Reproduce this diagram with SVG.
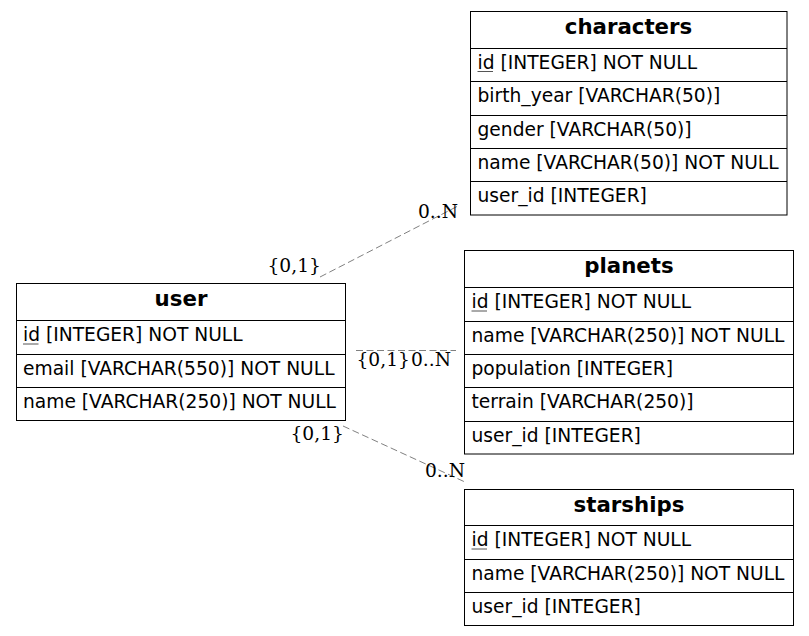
<svg xmlns="http://www.w3.org/2000/svg" width="809" height="636" viewBox="0 0 809 636">
<style>
.bg{fill:#fff}
.box{fill:#fff;stroke:#000;stroke-width:1}
.sep{stroke:#000;stroke-width:1}
.hd{font-family:"DejaVu Sans",sans-serif;font-size:21.3px;font-weight:bold;text-anchor:middle;fill:#000}
.f{font-family:"DejaVu Sans",sans-serif;font-size:18.67px;fill:#000}
.ul{stroke:#555;stroke-width:1}
.lbl{font-family:"DejaVu Serif",serif;font-size:18.67px;fill:#000}
.edge{fill:none;stroke:#808080;stroke-width:1;stroke-dasharray:7,3.5}
</style>
<rect class="bg" x="0" y="0" width="809" height="636"/>
<g id="connectors">
<path class="edge" d="M320,277 L458,206"/>
<path class="edge" d="M356,350.5 L456,350.5"/>
<path class="edge" d="M343,426 L465,482"/>
<text class="lbl" x="267.5" y="272">{0,1}</text>
<text class="lbl" x="418" y="218">0..N</text>
<text class="lbl" x="356.5" y="366">{0,1}</text>
<text class="lbl" x="411" y="366">0..N</text>
<text class="lbl" x="290.5" y="440">{0,1}</text>
<text class="lbl" x="425" y="477">0..N</text>
</g>
<g id="characters">
<rect class="box" x="470.5" y="11.5" width="316.5" height="203.5"/>
<line class="sep" x1="470.5" y1="48.5" x2="787" y2="48.5"/>
<line class="sep" x1="470.5" y1="81.5" x2="787" y2="81.5"/>
<line class="sep" x1="470.5" y1="115.5" x2="787" y2="115.5"/>
<line class="sep" x1="470.5" y1="148.5" x2="787" y2="148.5"/>
<line class="sep" x1="470.5" y1="181.5" x2="787" y2="181.5"/>
<text class="hd" x="628.5" y="34">characters</text>
<text class="f" x="477.5" y="69">id [INTEGER] NOT NULL</text>
<line class="ul" x1="477.5" y1="71.5" x2="493" y2="71.5"/>
<text class="f" x="477.5" y="102.4">birth_year [VARCHAR(50)]</text>
<text class="f" x="477.5" y="135.7">gender [VARCHAR(50)]</text>
<text class="f" x="477.5" y="169">name [VARCHAR(50)] NOT NULL</text>
<text class="f" x="477.5" y="202.4">user_id [INTEGER]</text>
</g>
<g id="planets">
<rect class="box" x="464.5" y="250.5" width="329" height="203.5"/>
<line class="sep" x1="464.5" y1="287.5" x2="793.5" y2="287.5"/>
<line class="sep" x1="464.5" y1="321.5" x2="793.5" y2="321.5"/>
<line class="sep" x1="464.5" y1="354.5" x2="793.5" y2="354.5"/>
<line class="sep" x1="464.5" y1="387.5" x2="793.5" y2="387.5"/>
<line class="sep" x1="464.5" y1="421.5" x2="793.5" y2="421.5"/>
<text class="hd" x="629" y="273">planets</text>
<text class="f" x="471.5" y="308.4">id [INTEGER] NOT NULL</text>
<line class="ul" x1="471.5" y1="311" x2="487" y2="311"/>
<text class="f" x="471.5" y="341.7">name [VARCHAR(250)] NOT NULL</text>
<text class="f" x="471.5" y="375">population [INTEGER]</text>
<text class="f" x="471.5" y="408.4">terrain [VARCHAR(250)]</text>
<text class="f" x="471.5" y="441.7">user_id [INTEGER]</text>
</g>
<g id="starships">
<rect class="box" x="464.5" y="489.5" width="329" height="136"/>
<line class="sep" x1="464.5" y1="525.5" x2="793.5" y2="525.5"/>
<line class="sep" x1="464.5" y1="559.5" x2="793.5" y2="559.5"/>
<line class="sep" x1="464.5" y1="592.5" x2="793.5" y2="592.5"/>
<text class="hd" x="629" y="512">starships</text>
<text class="f" x="471.5" y="546.4">id [INTEGER] NOT NULL</text>
<line class="ul" x1="471.5" y1="549" x2="487" y2="549"/>
<text class="f" x="471.5" y="579.7">name [VARCHAR(250)] NOT NULL</text>
<text class="f" x="471.5" y="613">user_id [INTEGER]</text>
</g>
<g id="user">
<rect class="box" x="16.5" y="283.5" width="329" height="137"/>
<line class="sep" x1="16.5" y1="320.5" x2="345.5" y2="320.5"/>
<line class="sep" x1="16.5" y1="354.5" x2="345.5" y2="354.5"/>
<line class="sep" x1="16.5" y1="387.5" x2="345.5" y2="387.5"/>
<text class="hd" x="181" y="306">user</text>
<text class="f" x="23" y="341.2">id [INTEGER] NOT NULL</text>
<line class="ul" x1="23" y1="344" x2="38.5" y2="344"/>
<text class="f" x="23" y="374.5">email [VARCHAR(550)] NOT NULL</text>
<text class="f" x="23" y="408">name [VARCHAR(250)] NOT NULL</text>
</g>
</svg>
